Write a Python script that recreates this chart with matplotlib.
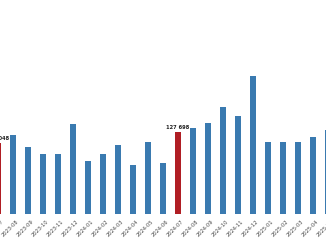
import matplotlib
matplotlib.use("Agg")
import matplotlib.pyplot as plt
from matplotlib.transforms import ScaledTranslation

months = ["2023-07", "2023-08", "2023-09", "2023-10", "2023-11", "2023-12",
          "2024-01", "2024-02", "2024-03", "2024-04", "2024-05", "2024-06",
          "2024-07", "2024-08", "2024-09", "2024-10", "2024-11", "2024-12",
          "2025-01", "2025-02", "2025-03", "2025-04", "2025-05"]
values = [110048, 121500, 102800, 93400, 93400, 138600,
          81000, 93400, 105900, 76300, 110600, 79400,
          127698, 133900, 141700, 165100, 152600, 213400,
          112100, 112100, 110600, 118400, 130800]
highlight = ["2023-07", "2024-07"]

blue = "#3a7ab0"
red = "#b01e24"

W, H = 326, 245
fig = plt.figure(figsize=(W / 100, H / 100), dpi=100)

# axes extends beyond the figure (cropped view)
px_left = -9.5
px_width = 345.0
bottom_px = 213.5
ymax = 250000
px_per_unit = 82.0 / 127698
ax_h_px = ymax * px_per_unit
ax = fig.add_axes([px_left / W, (H - bottom_px) / H, px_width / W, ax_h_px / H])

x = list(range(len(months)))
colors = [red if m in highlight else blue for m in months]
ax.bar(x, values, width=0.4, color=colors)

for i, (m, v) in enumerate(zip(months, values)):
    if m in highlight:
        ax.text(i, v + 3000, f"{v:,}".replace(",", " "), ha="center", va="bottom",
                fontsize=3.7, fontweight="bold", color="#222222")

ax.set_xlim(-0.5, len(months) - 0.5)
ax.set_ylim(0, ymax)
ax.set_xticks(x)
ax.set_xticklabels(months, rotation=45, ha="right", va="top", rotation_mode="anchor",
                   fontsize=3.7, color="#444444")
ax.tick_params(axis="x", length=0, pad=4)
offset = ScaledTranslation(3 / 100, 0, fig.dpi_scale_trans)
for lbl in ax.get_xticklabels():
    lbl.set_transform(lbl.get_transform() + offset)
ax.set_yticks([])
for s in ax.spines.values():
    s.set_visible(False)

fig.savefig("out.png", dpi=100)
